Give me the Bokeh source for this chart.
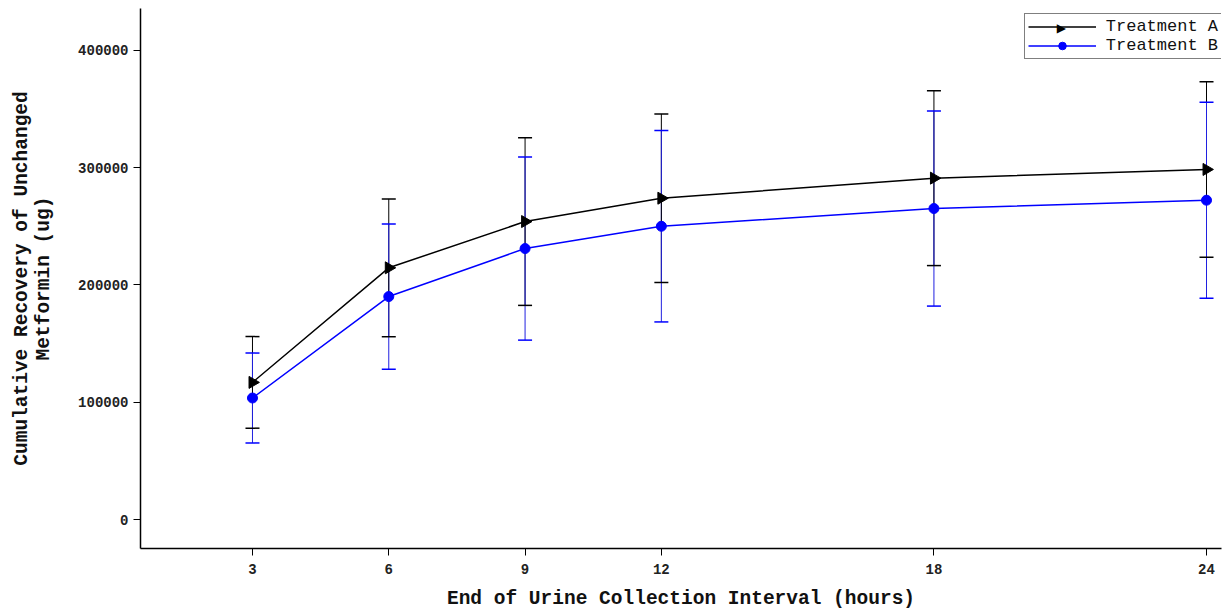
import numpy as np
from bokeh.plotting import figure
from bokeh.models import (Range1d, ColumnDataSource, Legend, LegendItem, FixedTicker,
                          BasicTickFormatter, Label)
from bokeh.embed import file_html
from bokeh.resources import INLINE

# Data
hours = [3, 6, 9, 12, 18, 24]
treat_a_mean = [117000, 214600, 254000, 273900, 291000, 298400]
treat_a_sd = [39000, 58700, 71400, 71800, 74500, 74800]
treat_b_mean = [103700, 190100, 231000, 250000, 265100, 272200]
treat_b_sd = [38300, 61900, 78000, 81500, 83100, 83500]
x_ticks = [3, 6, 9, 12, 18, 24]
y_ticks = [0, 100000, 200000, 300000, 400000]

a_m = np.array(treat_a_mean, dtype=float)
a_s = np.array(treat_a_sd, dtype=float)
b_m = np.array(treat_b_mean, dtype=float)
b_s = np.array(treat_b_sd, dtype=float)

src = ColumnDataSource(dict(
    x=hours,
    a=a_m, a_up=a_m + a_s, a_lo=a_m - a_s,
    b=b_m, b_up=b_m + b_s, b_lo=b_m - b_s,
    ang=[-np.pi / 2] * len(hours),
))

FONT = "Liberation Mono"
FW, FH = 1081, 540
BL, BR, BT, BB = 140, 2, 8, 53

p = figure(frame_width=FW, frame_height=FH, output_backend="svg", toolbar_location=None,
           x_range=Range1d(0.535, 24.33), y_range=Range1d(-24500, 435500),
           min_border_left=BL, min_border_right=BR, min_border_top=BT, min_border_bottom=BB)
p.outline_line_color = None
p.grid.visible = False
p.background_fill_color = "white"

# connecting lines
la = p.line("x", "a", source=src, line_color="black", line_width=1.5)
lb = p.line("x", "b", source=src, line_color="#0000ff", line_width=1.5)

# error bar stems (ordered as in reference)
p.segment("x", "a", "x", "a_up", source=src, line_color="black", line_width=1)
p.segment("x", "b", "x", "b_up", source=src, line_color="#2020e0", line_width=1)
p.segment("x", "a", "x", "a_lo", source=src, line_color="black", line_width=1)
p.segment("x", "b", "x", "b_lo", source=src, line_color="#2020e0", line_width=1)

# caps
for col, c in (("a_up", "black"), ("a_lo", "black"), ("b_up", "#0000ff"), ("b_lo", "#0000ff")):
    p.scatter("x", col, source=src, marker="dash", size=14, line_color=c, line_width=1.5)

# markers
ma = p.scatter("x", "a", source=src, marker="triangle", angle="ang", size=12,
               fill_color="black", line_color="black")
mb = p.scatter("x", "b", source=src, marker="circle", size=10,
               fill_color="#0000ff", line_color="#0000ff")

# axes
p.xaxis.ticker = FixedTicker(ticks=x_ticks)
p.yaxis.ticker = FixedTicker(ticks=y_ticks)
p.yaxis.formatter = BasicTickFormatter(use_scientific=False)
p.xaxis.axis_label = "End of Urine Collection Interval (hours)"
p.yaxis.axis_label = "Cumulative Recovery of Unchanged\nMetformin (ug)"
for ax in (p.xaxis, p.yaxis):
    ax.axis_line_color = "black"
    ax.axis_line_width = 1.5
    ax.major_tick_line_color = "black"
    ax.major_tick_line_width = 1
    ax.major_tick_out = 7
    ax.major_tick_in = 0
    ax.minor_tick_line_color = None
    ax.major_label_text_font = FONT
    ax.major_label_text_font_size = "14px"
    ax.major_label_text_font_style = "bold"
    ax.major_label_text_color = "#222222"
    ax.axis_label_text_font = FONT
    ax.axis_label_text_font_size = "19.5px"
    ax.axis_label_text_font_style = "bold"
    ax.axis_label_text_color = "#111111"
    ax.axis_label_text_line_height = 1.0
p.xaxis.major_label_standoff = 8
p.yaxis.major_label_standoff = 5
p.xaxis.axis_label_standoff = 11
p.yaxis.axis_label_standoff = 20

# legend
LP, GW, RH, LS, LFS = 3, 68, 19, 10, 17
label_w = 0.6 * LFS * len("Treatment A") + 1
leg_w = 2 * LP + GW + LS + label_w
leg_h = 2 * LP + 2 * RH
leg_x = FW - leg_w
leg_y = FH - 7 - leg_h
legend = Legend(items=[
    LegendItem(label="Treatment A", renderers=[la]),
    LegendItem(label="Treatment B", renderers=[lb, mb]),
], location=(leg_x, leg_y))
legend.margin = 0
legend.padding = LP
legend.spacing = 0
legend.glyph_width = GW
legend.glyph_height = RH
legend.label_height = RH
legend.label_standoff = LS
legend.label_text_font = FONT
legend.label_text_font_size = f"{LFS}px"
legend.label_text_color = "#111111"
legend.border_line_color = "black"
legend.border_line_width = 1
legend.background_fill_alpha = 0
p.add_layout(legend)

# right-pointing triangle for the "Treatment A" legend entry (legend glyphs ignore angle)
tri = Label(x=leg_x + LP + GW / 2, y=leg_y + leg_h - LP - RH / 2,
            x_units="screen", y_units="screen", text="\u25B6",
            text_font="DejaVu Sans", text_font_size="12px", text_color="black",
            text_align="center", text_baseline="middle", level="overlay")
p.add_layout(tri)

open("out.html", "w").write(file_html(p, INLINE))
